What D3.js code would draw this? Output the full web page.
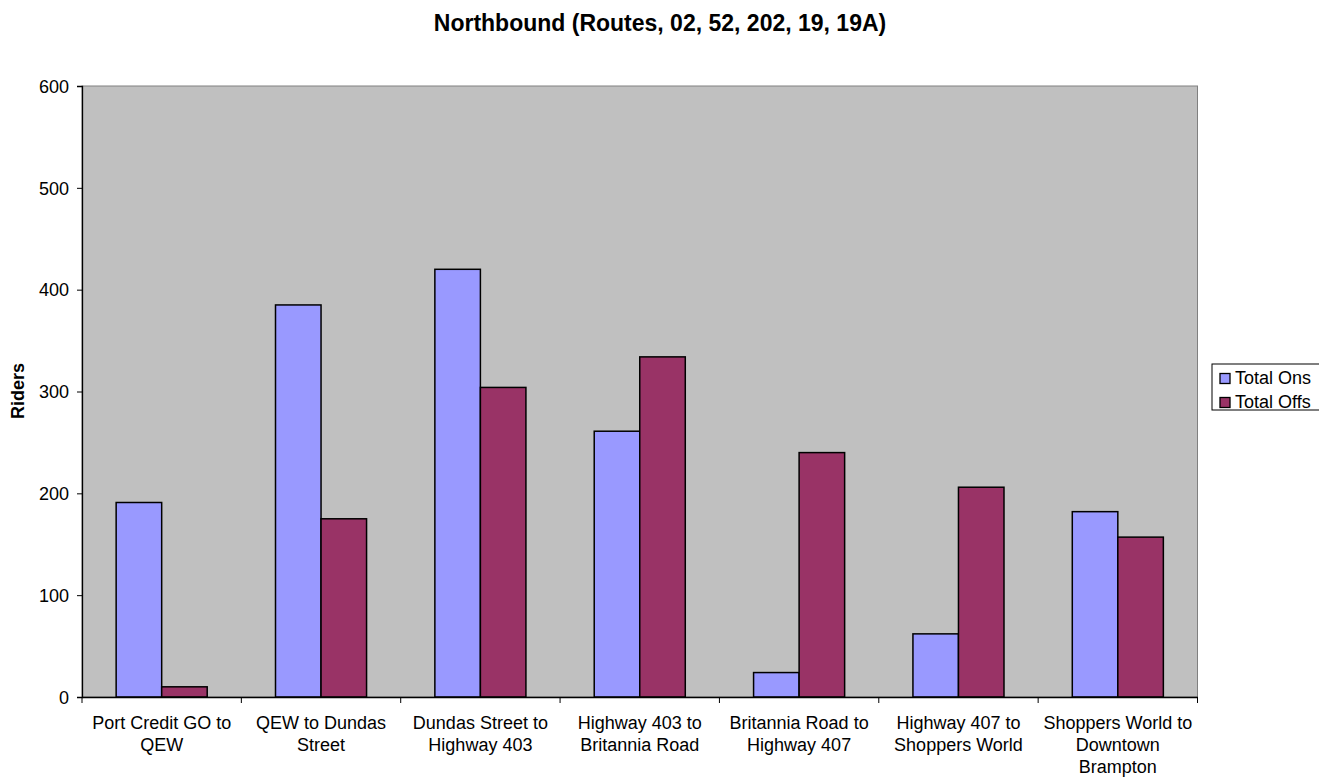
<!DOCTYPE html>
<html><head><meta charset="utf-8">
<script src="https://cdn.jsdelivr.net/npm/d3@7"></script>
<style>body{margin:0;background:#fff;} text{font-family:"Liberation Sans",Arial,sans-serif;}</style>
</head><body>
<svg id="c" width="1319" height="780"></svg>
<script>
const categories = [
  ["Port Credit GO to", "QEW"],
  ["QEW to Dundas", "Street"],
  ["Dundas Street to", "Highway 403"],
  ["Highway 403 to", "Britannia Road"],
  ["Britannia Road to", "Highway 407"],
  ["Highway 407 to", "Shoppers World"],
  ["Shoppers World to", "Downtown", "Brampton"]
];
const seriesNames = ["Total Ons", "Total Offs"];
const totalOns  = [191, 385, 420, 261, 24, 62, 182];
const totalOffs = [10, 175, 304, 334, 240, 206, 157];
const yTicks = [0, 100, 200, 300, 400, 500, 600];
const colors = ["#9999FF", "#993366"];

const svg = d3.select("#c");
const L = 82, R = 1197.5, T = 86, B = 697;
const x = d3.scaleBand().domain(d3.range(categories.length)).range([L, R]).paddingInner(0).paddingOuter(0);
const y = d3.scaleLinear().domain([0, 600]).range([B, T]);
const inner = d3.scaleBand().domain([0,1]).range([0, x.bandwidth()]).paddingInner(0).paddingOuter(0.75);

svg.append("rect").attr("x", L).attr("y", T).attr("width", R-L).attr("height", B-T)
  .attr("fill", "#C0C0C0").attr("stroke", "#808080").attr("stroke-width", 1);

const series = [totalOns, totalOffs];
series.forEach((vals, si) => {
  svg.append("g").selectAll("rect").data(vals).join("rect")
    .attr("x", (d,i) => x(i) + inner(si))
    .attr("y", d => y(d))
    .attr("width", inner.bandwidth())
    .attr("height", d => B - y(d))
    .attr("fill", colors[si]).attr("stroke", "#000").attr("stroke-width", 1.5);
});

// Y axis
const ya = svg.append("g").attr("transform", `translate(${L},0)`)
  .call(d3.axisLeft(y).tickValues(yTicks).tickSize(5).tickPadding(8));
ya.select(".domain").attr("stroke", "#000").attr("stroke-width", 1.3);
ya.selectAll(".tick line").attr("stroke", "#000");
ya.selectAll(".tick text").attr("font-size", 18).attr("fill", "#000")
  .attr("font-family", "Liberation Sans, Arial, sans-serif").attr("dy", "0.35em");

// X axis
const xa = svg.append("g").attr("transform", `translate(0,${B})`)
  .call(d3.axisBottom(x).tickValues([]).tickSize(0));
xa.select(".domain").attr("stroke", "#000").attr("stroke-width", 1.3);
const bounds = d3.range(categories.length + 1).map(i => i < categories.length ? x(i) : R);
svg.append("g").selectAll("line").data(bounds).join("line")
  .attr("x1", d => d).attr("x2", d => d).attr("y1", B).attr("y2", B + 6)
  .attr("stroke", "#000");
const labs = svg.append("g").selectAll("text").data(categories).join("text")
  .attr("text-anchor", "middle").attr("font-size", 18).attr("fill", "#000")
  .attr("transform", (d,i) => `translate(${x(i) + x.bandwidth()/2},729)`);
labs.each(function(d){
  d3.select(this).selectAll("tspan").data(d).join("tspan")
    .attr("x", 0).attr("dy", (t,j) => j === 0 ? 0 : 22).text(t => t);
});

// Title
svg.append("text").attr("x", 660).attr("y", 31).attr("text-anchor", "middle")
  .attr("font-size", 23).attr("font-weight", "bold").text("Northbound (Routes, 02, 52, 202, 19, 19A)");
// Y title
svg.append("text").attr("transform", "translate(24,391) rotate(-90)").attr("text-anchor", "middle")
  .attr("font-size", 18).attr("font-weight", "bold").text("Riders");

// Legend
const lg = svg.append("g");
lg.append("rect").attr("x", 1212).attr("y", 364).attr("width", 130).attr("height", 46)
  .attr("fill", "#fff").attr("stroke", "#000").attr("stroke-width", 1);
seriesNames.forEach((n, i) => {
  lg.append("rect").attr("x", 1220).attr("y", 373.5 + i*24).attr("width", 10).attr("height", 10)
    .attr("fill", colors[i]).attr("stroke", "#000").attr("stroke-width", 1.3);
  lg.append("text").attr("x", 1235).attr("y", 383.5 + i*24).attr("font-size", 18).text(n);
});
</script>
</body></html>
